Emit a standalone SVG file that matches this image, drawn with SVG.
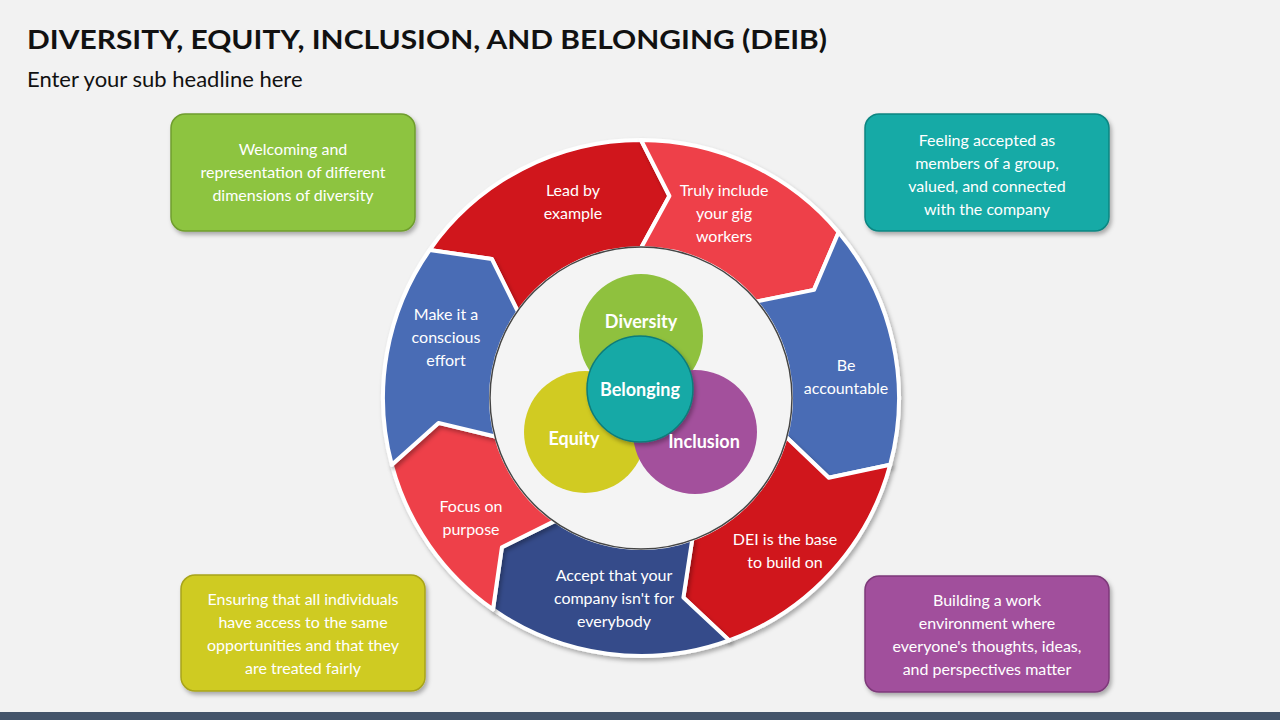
<svg xmlns="http://www.w3.org/2000/svg" width="1280" height="720" viewBox="0 0 1280 720">
<defs>
<filter id="sh" x="-10%" y="-10%" width="120%" height="120%"><feDropShadow dx="2" dy="3" stdDeviation="2" flood-opacity="0.3"/></filter>
<style>
.t{font-family:Lato,"Open Sans",sans-serif;font-size:16px;fill:#fff;text-anchor:middle}
.b{font-family:Lato,"Open Sans",sans-serif;font-size:18px;font-weight:bold;fill:#fff;text-anchor:middle}
.seg{stroke:#fff;stroke-width:4;stroke-linejoin:round;filter:url(#sh)}
.box{stroke-width:1.5;filter:url(#sh)}
</style>
</defs>
<rect width="1280" height="720" fill="#f2f2f2"/>
<rect y="712" width="1280" height="8" fill="#44546a"/>
<text x="27" y="49" font-family="Lato,'Open Sans',sans-serif" font-size="27" font-weight="bold" fill="#111" textLength="800" lengthAdjust="spacingAndGlyphs">DIVERSITY, EQUITY, INCLUSION, AND BELONGING (DEIB)</text>
<text x="27" y="87" font-family="Lato,'Open Sans',sans-serif" font-size="22" fill="#111">Enter your sub headline here</text>
<g id="ring">
<path id="seg-lead" class="seg" fill="#d0121b" d="M429.6,250 A258,258 0 0 1 641,140 L669.4,196 L641,248 A150,150 0 0 0 518.1,312 L491.8,258.9 Z"/>
<path id="seg-truly" class="seg" fill="#ee4149" d="M641,140 A258,258 0 0 1 838.6,232.2 L814,289.9 L755.9,301.6 A150,150 0 0 0 641,248 L669.4,196 Z"/>
<path id="seg-be" class="seg" fill="#4a6cb5" d="M838.6,232.2 A258,258 0 0 1 890.2,464.8 L828.8,477.7 L785.9,436.8 A150,150 0 0 0 755.9,301.6 L814,289.9 Z"/>
<path id="seg-dei" class="seg" fill="#d0121b" d="M890.2,464.8 A258,258 0 0 1 729.2,640.4 L683.4,597.5 L692.3,539 A150,150 0 0 0 785.9,436.8 L828.8,477.7 Z"/>
<path id="seg-accept" class="seg" fill="#344c8a" d="M729.2,640.4 A258,258 0 0 1 493,609.4 L501.9,547.2 L555,520.9 A150,150 0 0 0 692.3,539 L683.4,597.5 Z"/>
<path id="seg-focus" class="seg" fill="#ee4149" d="M493,609.4 A258,258 0 0 1 391.8,464.8 L438.5,422.9 L496.1,436.8 A150,150 0 0 0 555,520.9 L501.9,547.2 Z"/>
<path id="seg-make" class="seg" fill="#4a6cb5" d="M391.8,464.8 A258,258 0 0 1 429.6,250 L491.8,258.9 L518.1,312 A150,150 0 0 0 496.1,436.8 L438.5,422.9 Z"/>
<text class="t" x="573" y="196">Lead by<tspan x="573" dy="23">example</tspan></text>
<text class="t" x="724" y="196">Truly include<tspan x="724" dy="23">your gig</tspan><tspan x="724" dy="23">workers</tspan></text>
<text class="t" x="846" y="371">Be<tspan x="846" dy="23">accountable</tspan></text>
<text class="t" x="785" y="545">DEI is the base<tspan x="785" dy="23">to build on</tspan></text>
<text class="t" x="614" y="581">Accept that your<tspan x="614" dy="23">company isn't for</tspan><tspan x="614" dy="23">everybody</tspan></text>
<text class="t" x="471" y="512">Focus on<tspan x="471" dy="23">purpose</tspan></text>
<text class="t" x="446" y="320">Make it a<tspan x="446" dy="23">conscious</tspan><tspan x="446" dy="23">effort</tspan></text>
</g>
<g id="center">
<circle cx="641" cy="398" r="151" fill="#f4f4f4" stroke="#444" stroke-width="1.5"/>
<circle id="diversity" cx="641" cy="336" r="62" fill="#8fc13e"/>
<circle id="equity" cx="585" cy="432" r="61" fill="#d1cb22"/>
<circle id="inclusion" cx="695" cy="432" r="62" fill="#a3509c"/>
<circle id="belonging" cx="640" cy="389" r="53" fill="#17a9a6" stroke="#0d7c7a" stroke-width="1.5" filter="url(#sh)"/>
<text class="b" x="641" y="328">Diversity</text>
<text class="b" x="640" y="396">Belonging</text>
<text class="b" x="574" y="445">Equity</text>
<text class="b" x="704" y="448">Inclusion</text>
</g>
<g id="box-diversity">
<rect class="box" x="171" y="114" width="244" height="117" rx="14" fill="#8dc43f" stroke="#6f9d2e"/>
<text class="t" x="293" y="155">Welcoming and<tspan x="293" dy="23">representation of different</tspan><tspan x="293" dy="23">dimensions of diversity</tspan></text>
</g>
<g id="box-belonging">
<rect class="box" x="865" y="114" width="244" height="117" rx="14" fill="#13aaa6" stroke="#0e8581"/>
<text class="t" x="987" y="146">Feeling accepted as<tspan x="987" dy="23">members of a group,</tspan><tspan x="987" dy="23">valued, and connected</tspan><tspan x="987" dy="23">with the company</tspan></text>
</g>
<g id="box-equity">
<rect class="box" x="181" y="575" width="244" height="116" rx="14" fill="#cfcb23" stroke="#a8a41a"/>
<text class="t" x="303" y="605">Ensuring that all individuals<tspan x="303" dy="23">have access to the same</tspan><tspan x="303" dy="23">opportunities and that they</tspan><tspan x="303" dy="23">are treated fairly</tspan></text>
</g>
<g id="box-inclusion">
<rect class="box" x="865" y="576" width="244" height="116" rx="14" fill="#a14f9c" stroke="#7e3a7a"/>
<text class="t" x="987" y="606">Building a work<tspan x="987" dy="23">environment where</tspan><tspan x="987" dy="23">everyone's thoughts, ideas,</tspan><tspan x="987" dy="23">and perspectives matter</tspan></text>
</g>
</svg>
